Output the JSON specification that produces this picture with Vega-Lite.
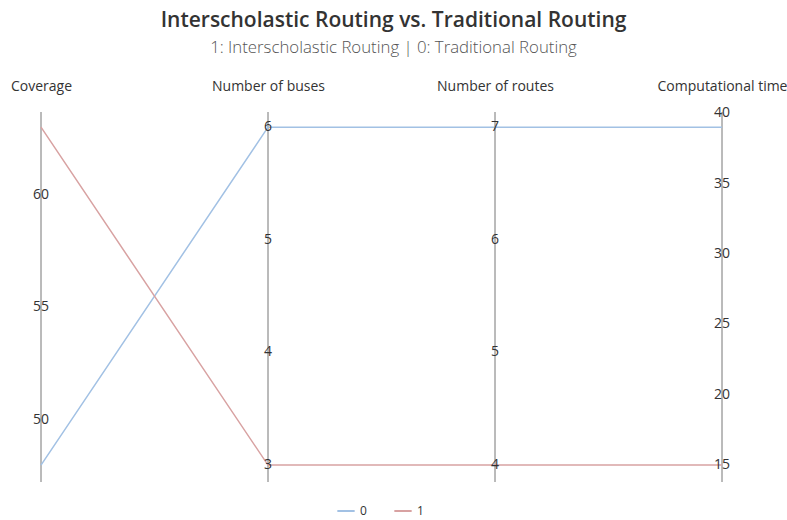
{
  "$schema": "https://vega.github.io/schema/vega-lite/v6.json",
  "autosize": "none",
  "width": 681,
  "height": 370,
  "padding": {"left": 41, "top": 112, "right": 65, "bottom": 38},
  "background": "white",
  "config": {"font": "Open Sans", "view": {"stroke": null}},
  "title": {
    "text": "Interscholastic Routing vs. Traditional Routing",
    "subtitle": "1: Interscholastic Routing | 0: Traditional Routing",
    "anchor": "middle",
    "dx": 12,
    "offset": 22,
    "fontSize": 21,
    "fontWeight": 600,
    "color": "#333333",
    "subtitleFontSize": 16.8,
    "subtitleFontWeight": 300,
    "subtitleColor": "#555555",
    "subtitlePadding": 9
  },
  "data": {
    "values": [
      {"key": "Coverage", "value": 48, "Routing": "0", "kind": "line"},
      {"key": "Number of buses", "value": 6, "Routing": "0", "kind": "line"},
      {"key": "Number of routes", "value": 7, "Routing": "0", "kind": "line"},
      {"key": "Computational time", "value": 39, "Routing": "0", "kind": "line"},
      {"key": "Coverage", "value": 63, "Routing": "1", "kind": "line"},
      {"key": "Number of buses", "value": 3, "Routing": "1", "kind": "line"},
      {"key": "Number of routes", "value": 4, "Routing": "1", "kind": "line"},
      {"key": "Computational time", "value": 15, "Routing": "1", "kind": "line"},
      {"key": "Coverage", "value": 50, "kind": "tick"},
      {"key": "Coverage", "value": 55, "kind": "tick"},
      {"key": "Coverage", "value": 60, "kind": "tick"},
      {"key": "Number of buses", "value": 3, "kind": "tick"},
      {"key": "Number of buses", "value": 4, "kind": "tick"},
      {"key": "Number of buses", "value": 5, "kind": "tick"},
      {"key": "Number of buses", "value": 6, "kind": "tick"},
      {"key": "Number of routes", "value": 4, "kind": "tick"},
      {"key": "Number of routes", "value": 5, "kind": "tick"},
      {"key": "Number of routes", "value": 6, "kind": "tick"},
      {"key": "Number of routes", "value": 7, "kind": "tick"},
      {"key": "Computational time", "value": 15, "kind": "tick"},
      {"key": "Computational time", "value": 20, "kind": "tick"},
      {"key": "Computational time", "value": 25, "kind": "tick"},
      {"key": "Computational time", "value": 30, "kind": "tick"},
      {"key": "Computational time", "value": 35, "kind": "tick"},
      {"key": "Computational time", "value": 40, "kind": "tick"}
    ]
  },
  "transform": [
    {"calculate": "datum.kind === 'line' ? datum.value : null", "as": "lv"},
    {"joinaggregate": [{"op": "min", "field": "lv", "as": "vmin"}, {"op": "max", "field": "lv", "as": "vmax"}], "groupby": ["key"]},
    {"calculate": "(datum.value - datum.vmin) / (datum.vmax - datum.vmin)", "as": "norm"}
  ],
  "encoding": {
    "x": {
      "field": "key",
      "type": "nominal",
      "sort": ["Coverage", "Number of buses", "Number of routes", "Computational time"],
      "scale": {"type": "point", "padding": 0},
      "axis": {
        "orient": "top",
        "title": null,
        "domain": false,
        "ticks": false,
        "labelAngle": 0,
        "labelPadding": 19,
        "labelFontSize": 14,
        "labelColor": "#333333",
        "labelFont": "Open Sans"
      }
    }
  },
  "layer": [
    {
      "transform": [{"filter": "datum.kind === 'tick'"}, {"aggregate": [{"op": "count", "as": "n"}], "groupby": ["key"]}],
      "mark": {"type": "rule", "color": "#777777", "strokeWidth": 1},
      "encoding": {}
    },
    {
      "transform": [{"filter": "datum.kind === 'line'"}],
      "mark": {"type": "line", "strokeWidth": 1.5},
      "encoding": {
        "y": {"field": "norm", "type": "quantitative", "scale": {"domain": [-0.05, 1.045], "nice": false, "zero": false}, "axis": null},
        "color": {
          "field": "Routing",
          "type": "nominal",
          "scale": {"domain": ["0", "1"], "range": ["#a2c1e4", "#d8a2a2"]},
          "legend": {
            "orient": "none",
            "legendX": 295,
            "legendY": 389,
            "direction": "horizontal",
            "title": null,
            "symbolType": "stroke",
            "symbolSize": 300,
            "symbolStrokeWidth": 2,
            "labelFontSize": 12,
            "labelColor": "#333333",
            "columnPadding": 23
          }
        },
        "detail": {"field": "Routing"}
      }
    },
    {
      "transform": [{"filter": "datum.kind === 'tick'"}],
      "mark": {"type": "text", "fontSize": 14, "color": "#333333", "align": "center", "baseline": "middle"},
      "encoding": {
        "y": {"field": "norm", "type": "quantitative"},
        "text": {"field": "value", "type": "quantitative"}
      }
    }
  ]
}
